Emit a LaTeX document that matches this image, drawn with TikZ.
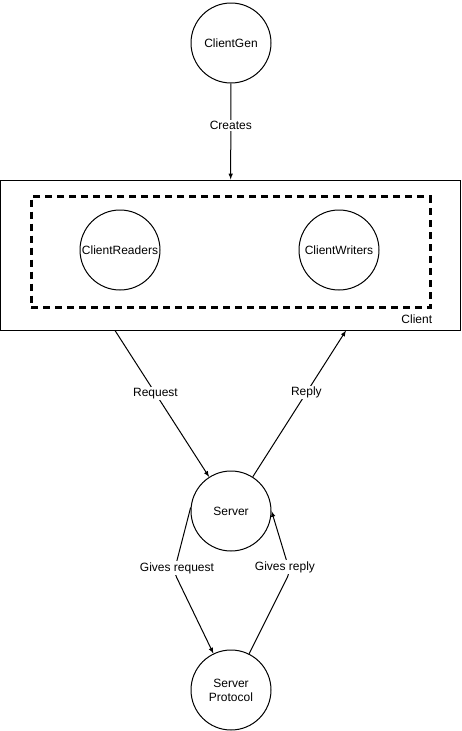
\documentclass[tikz,border=0pt]{standalone}
\usepackage{fontspec}
\setmainfont{Liberation Sans}
\usetikzlibrary{positioning}

\begin{document}
\begin{tikzpicture}[x=1pt, y=-1pt, line width=1pt, font=\fontsize{12}{14}\selectfont]
  \tikzstyle{unit}=[circle, minimum size=80pt, inner sep=0pt, draw]
  \tikzstyle{group}=[rectangle, inner sep=0pt, draw]
  \tikzstyle{note}=[fill=white, inner sep=1pt]
  \useasboundingbox (0,0) rectangle (461,731);
  \node [unit] at (231,43) (gen) {ClientGen};
  \node [group, minimum width=460pt, minimum height=150pt] at (230.5,255) (client) {};
  \node [anchor=east] at (436,319) (clientname) {Client};
  \node [group, line width=3pt, dash pattern=on 7pt off 5pt,
         minimum width=399pt, minimum height=111pt] at (230.5,252) (inner) {};
  \node [unit] at (120,250) (readers) {ClientReaders};
  \node [unit] at (339,250) (writers) {ClientWriters};
  \node [unit] at (231,511) (server) {Server};
  \node [unit, align=center] at (231,690) (proto) {Server\\Protocol};
  \coordinate (reqstart) at ([xshift=115pt]client.south west);
  \coordinate (repend) at ([xshift=346pt]client.south west);
  \coordinate (reqbend) at (174,572);
  \coordinate (repbend) at (290,572);
  \draw[-latex] (gen) -- node[note, pos=0.44] {Creates} (client);
  \draw[-latex] (reqstart) -- node[note, pos=0.43] {Request} (server);
  \draw[-latex] (server) -- node[note, pos=0.575] {Reply} (repend);
  \draw[-latex, rounded corners=6pt] (server.175) -- (reqbend) -- (proto);
  \draw[-latex, rounded corners=6pt] (proto) -- (repbend) -- (server.east);
  \node [note] at (177,568) (givesreq) {Gives request};
  \node [note] at (285,567) (givesrep) {Gives reply};
\end{tikzpicture}
\end{document}
